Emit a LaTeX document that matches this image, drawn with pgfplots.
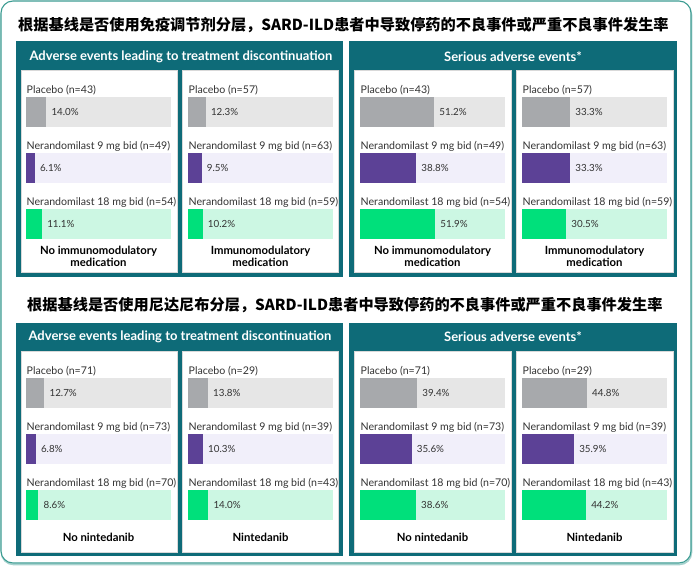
\documentclass[border=0pt]{standalone}
\usepackage{pgfplots}
\pgfplotsset{compat=1.18}
\usepackage{fontspec}
\setmainfont{Lato}
\newfontfamily\cjk{Noto Sans CJK SC}

\definecolor{frame}{HTML}{0E6B78}
\definecolor{outer}{HTML}{3C9C92}
\definecolor{txt}{HTML}{333333}
\definecolor{pbar}{HTML}{A7A9AC}
\definecolor{pbg}{HTML}{E6E6E6}
\definecolor{nbar}{HTML}{5C4196}
\definecolor{nbg}{HTML}{F1EFFA}
\definecolor{gbar}{HTML}{00E07B}
\definecolor{gbg}{HTML}{CCF7E3}

\pgfplotsset{
  panelaxis/.style={
    xbar, bar shift=0pt, bar width=30pt,
    width=145pt, height=142pt, scale only axis,
    anchor=north west,
    xmin=0, xmax=100, ymin=-0.27, ymax=2.27, y dir=reverse,
    hide axis, clip=false,
    every axis plot/.append style={draw=none},
  },
  valuelabel/.style={
    point meta=x,
    nodes near coords={\pgfmathprintnumber[fixed,fixed zerofill,precision=1,assume math mode=true]{\pgfplotspointmeta}\%},
    every node near coord/.append style={anchor=west, inner sep=0pt, xshift=5pt,
      font=\fontsize{9.8}{11}\selectfont, text=txt},
  },
}
\tikzset{
  catlabel/.style={anchor=base west, inner sep=0pt, xshift=0.5pt, yshift=3.5pt,
    font=\fontsize{10.6}{12}\selectfont, text=txt},
  grouplabel/.style={anchor=center, inner sep=0pt, yshift=-17.5pt, align=center,
    font=\fontsize{11.3}{12.5}\selectfont\bfseries, text=black},
  header/.style={text=white, font=\fontsize{13}{15}\selectfont\bfseries},
  maintitle/.style={anchor=west, inner sep=0pt, font=\cjk\fontsize{15.2}{18}\selectfont\bfseries},
}

% #1 bar left (px), #2 bar top (px), #3-#5 group sizes, #6-#8 percentages, #9 subgroup name
\newcommand{\panel}[9]{%
\begin{axis}[panelaxis, at={(#1pt,{(566-#2)*1pt})}]
  \addplot[fill=pbg] coordinates {(100,0)};
  \addplot[fill=pbar, valuelabel] coordinates {(#6,0)};
  \addplot[fill=nbg] coordinates {(100,1)};
  \addplot[fill=nbar, valuelabel] coordinates {(#7,1)};
  \addplot[fill=gbg] coordinates {(100,2)};
  \addplot[fill=gbar, valuelabel] coordinates {(#8,2)};
  \node[catlabel] at (axis cs:0,-0.268) {Placebo (n=#3)};
  \node[catlabel] at (axis cs:0,0.732) {Nerandomilast 9 mg bid (n=#4)};
  \node[catlabel] at (axis cs:0,1.732) {Nerandomilast 18 mg bid (n=#5)};
  \node[grouplabel] at (axis cs:50,2.27) {#9};
\end{axis}}

\begin{document}
\begin{tikzpicture}
\begin{scope}[x=1pt, y=-1pt, yshift=566pt]
  \path (0,0) rectangle (693,566);
  % outer card with soft lower edge
  \draw[outer!45, line width=1.6pt, rounded corners=12pt] (1.5,3) rectangle (691.5,564.5);
  \draw[outer, line width=1.1pt, fill=white, rounded corners=12pt] (1,1) rectangle (691,563);
  % titles
  \node[maintitle] at (18,25) {根据基线是否使用免疫调节剂分层，SARD-ILD患者中导致停药的不良事件或严重不良事件发生率};
  \node[maintitle] at (27,305) {根据基线是否使用尼达尼布分层，SARD-ILD患者中导致停药的不良事件或严重不良事件发生率};
  % group frames
  \fill[frame] (16,41) rectangle (343,277);
  \fill[frame] (349,41) rectangle (677,277);
  \fill[frame] (16,323) rectangle (343,556);
  \fill[frame] (349,323) rectangle (677,556);
  \node[header] at (181,57) {Adverse events leading to treatment discontinuation};
  \node[header] at (513,57) {Serious adverse events*};
  \node[header] at (180,337) {Adverse events leading to treatment discontinuation};
  \node[header] at (513,337) {Serious adverse events*};
  % white panels
  \foreach \xa/\xb in {21/177, 182/338, 354/511, 516/673}{
    \filldraw[fill=white, draw=black!15, line width=0.5pt] (\xa,70) rectangle (\xb,272);
    \filldraw[fill=white, draw=black!15, line width=0.5pt] (\xa,351) rectangle (\xb,552);
  }
\end{scope}

% immunomodulatory medication strata
\panel{26}{97}{43}{49}{54}{14.0}{6.1}{11.1}{No immunomodulatory\\medication}
\panel{188}{97}{57}{63}{59}{12.3}{9.5}{10.2}{Immunomodulatory\\medication}
\panel{360}{97}{43}{49}{54}{51.2}{38.8}{51.9}{No immunomodulatory\\medication}
\panel{522}{97}{57}{63}{59}{33.3}{33.3}{30.5}{Immunomodulatory\\medication}
% nintedanib strata
\panel{26}{378}{71}{73}{70}{12.7}{6.8}{8.6}{No nintedanib}
\panel{188}{378}{29}{39}{43}{13.8}{10.3}{14.0}{Nintedanib}
\panel{360}{378}{71}{73}{70}{39.4}{35.6}{38.6}{No nintedanib}
\panel{522}{378}{29}{39}{43}{44.8}{35.9}{44.2}{Nintedanib}
\end{tikzpicture}
\end{document}
